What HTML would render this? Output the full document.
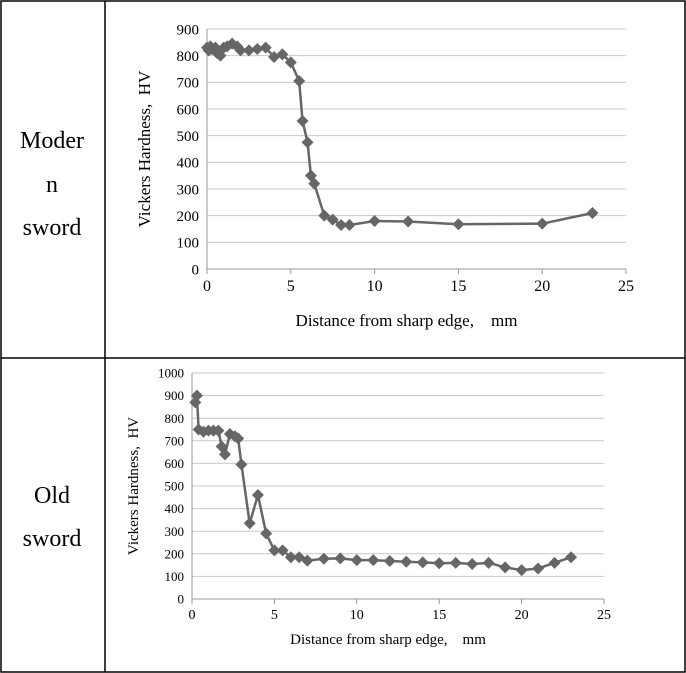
<!DOCTYPE html>
<html><head><meta charset="utf-8"><style>
body{margin:0;background:#fff;}
svg{display:block;font-family:"Liberation Serif",serif;}
text{white-space:pre;}
</style></head><body>
<svg id="s" width="686" height="673" xmlns="http://www.w3.org/2000/svg">
<rect x="1" y="1" width="684" height="671" fill="#fff" stroke="#000" stroke-width="1.5"/>
<line x1="105" y1="1" x2="105" y2="672" stroke="#000" stroke-width="1.5"/>
<line x1="1" y1="358" x2="685" y2="358" stroke="#000" stroke-width="1.5"/>
<g font-size="24" text-anchor="middle" fill="#000">
<text x="52" y="148">Moder</text><text x="52" y="192">n</text><text x="52" y="235">sword</text>
<text x="52" y="503">Old</text><text x="52" y="546">sword</text>
</g>
<g id="g1"></g><g id="g2"></g>
</svg>
<script>
function chart(id,x0,x1,y0,yt,ymax,step,data,fs,xl,yl,xly,ylx,lfs){
 const g=document.getElementById(id);let h='';
 const X=v=>x0+(x1-x0)*v/25, Y=v=>y0-(y0-yt)*v/ymax;
 for(let v=0;v<=ymax;v+=step){const y=Y(v);
  h+=`<line x1="${x0}" y1="${y}" x2="${x1}" y2="${y}" stroke="${v?'#c8c8c8':'#999'}" stroke-width="1"/>`;
  h+=`<text x="${x0-8}" y="${y+fs*0.35}" font-size="${fs}" text-anchor="end">${v}</text>`;}
 h+=`<line x1="${x0}" y1="${yt}" x2="${x0}" y2="${y0}" stroke="#999"/>`;
 for(let v=0;v<=25;v+=5){const x=X(v);
  h+=`<line x1="${x}" y1="${y0}" x2="${x}" y2="${y0+5}" stroke="#999"/>`;
  h+=`<text x="${x}" y="${y0+fs+7}" font-size="${fs+1}" text-anchor="middle">${v}</text>`;}
 h+=`<polyline fill="none" stroke="#666" stroke-width="2.5" points="${data.map(d=>X(d[0])+','+Y(d[1])).join(' ')}"/>`;
 for(const d of data){const x=X(d[0]),y=Y(d[1]);h+=`<polygon fill="#666" points="${x},${y-6} ${x+6},${y} ${x},${y+6} ${x-6},${y}"/>`;}
 h+=`<text x="${(x0+x1)/2-10}" y="${xly}" font-size="${lfs}" text-anchor="middle">${xl}</text>`;
 h+=`<text transform="translate(${ylx},${(y0+yt)/2}) rotate(-90)" font-size="${lfs}" text-anchor="middle">${yl}</text>`;
 g.innerHTML=h;}
chart('g1',207,626,269,29,900,100,[[0,830],[0.1,820],[0.2,835],[0.3,825],[0.5,830],[0.6,810],[0.8,800],[1,830],[1.2,835],[1.5,845],[1.8,835],[2,820],[2.5,820],[3,825],[3.5,830],[4,795],[4.5,805],[5,775],[5.5,705],[5.7,555],[6,475],[6.2,350],[6.4,320],[7,200],[7.5,185],[8,165],[8.5,165],[10,180],[12,178],[15,168],[20,170],[23,210]],15,'Distance from sharp edge,    mm','Vickers Hardness,  HV',326,150,17);
chart('g2',192,604,599,373,1000,100,[[0.2,870],[0.3,900],[0.4,750],[0.7,740],[1,745],[1.3,745],[1.6,745],[1.8,675],[2,640],[2.3,730],[2.6,720],[2.8,710],[3,595],[3.5,335],[4,460],[4.5,290],[5,215],[5.5,215],[6,185],[6.5,185],[7,170],[8,178],[9,180],[10,172],[11,172],[12,168],[13,165],[14,162],[15,158],[16,160],[17,155],[18,160],[19,140],[20,128],[21,135],[22,160],[23,185]],13,'Distance from sharp edge,    mm','Vickers Hardness,  HV',644,138,15);
</script>
</body></html>
